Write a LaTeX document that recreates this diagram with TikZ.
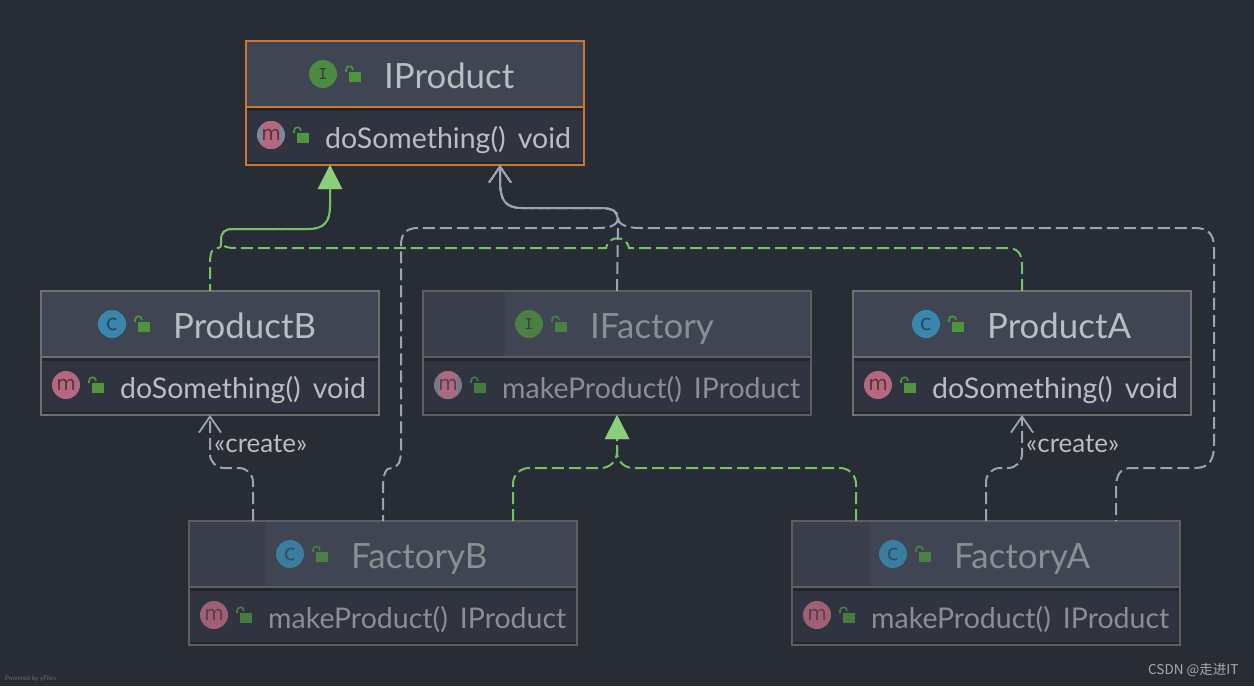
\documentclass[tikz,border=0pt]{standalone}
\usepackage{xcolor}
\usepackage{fontspec}
\setmainfont{Lato}
\newfontfamily\cjkfoot{Noto Sans CJK SC}
\newfontfamily\iconfont{DejaVu Sans Mono}
\newfontfamily\letterfont{DejaVu Sans}
\usetikzlibrary{arrows.meta, positioning}
\definecolor{bgdark}{HTML}{282C34}
\definecolor{headfill}{HTML}{3F4552}
\definecolor{headdim}{HTML}{3A3F4B}
\definecolor{bodyfill}{HTML}{2F3440}
\definecolor{stripe}{HTML}{23262E}
\definecolor{edgeorange}{HTML}{C87832}
\definecolor{edgegray}{HTML}{6E7070}
\definecolor{edgedim}{HTML}{5C5E5F}
\definecolor{txtbright}{HTML}{BABDC1}
\definecolor{txtdim}{HTML}{8B8E92}
\definecolor{linegreen}{HTML}{76C265}
\definecolor{tipgreen}{HTML}{8BCF7A}
\definecolor{linegray}{HTML}{9DA3B4}
\definecolor{icongreen}{HTML}{4F8A42}
\definecolor{lockgreen}{HTML}{4E963E}
\definecolor{iconblue}{HTML}{3A87AD}
\definecolor{iconpink}{HTML}{B3687F}
\definecolor{icongray}{HTML}{7C8A96}
\definecolor{letteri}{HTML}{2F3F30}
\definecolor{letterc}{HTML}{2B4A60}
\definecolor{letterm}{HTML}{5A3342}

\begin{document}
\begin{tikzpicture}[
  x=1pt, y=-1pt,
  head/.style={rectangle, draw=edgegray, fill=headfill, line width=2pt, outer sep=0pt, minimum height=66pt},
  dimhead/.style={head, draw=edgedim, path picture={\fill[headdim] (path picture bounding box.north west) rectangle ([xshift=#1]path picture bounding box.south west);}},
  body/.style={rectangle, draw=edgegray, fill=bodyfill, line width=2pt, outer sep=0pt, minimum height=58pt, path picture={
    \fill[stripe] (path picture bounding box.north west) rectangle ([yshift=-4pt]path picture bounding box.north east);
    \fill[stripe] (path picture bounding box.south west) rectangle ([yshift=3pt]path picture bounding box.south east);}},
  dimbody/.style={body, draw=edgedim},
  narrow/.style={minimum width=338pt},
  wide/.style={minimum width=388pt},
  orangebox/.style={draw=edgeorange},
  classname/.style={anchor=base west, inner sep=0pt, text=txtbright, font=\fontsize{34.8}{40}\selectfont},
  method/.style={anchor=base west, inner sep=0pt, text=txtbright, font=\fontsize{28.5}{32}\selectfont},
  dimtext/.style={text=txtdim},
  icon/.style={circle, inner sep=0pt, minimum size=28pt, outer sep=0pt},
  iconi/.style={icon, fill=icongreen, text=letteri, font=\iconfont\fontsize{15}{15}\selectfont},
  iconc/.style={icon, fill=iconblue, text=letterc, font=\letterfont\fontsize{22}{22}\selectfont},
  iconm/.style={icon, fill=iconpink, text=letterm, font=\letterfont\fontsize{20}{20}\selectfont},
  iconmsel/.style={icon, fill=icongray, text=letterm, font=\letterfont\fontsize{20}{20}\selectfont, path picture={
    \fill[iconpink] ([xshift=-9pt]path picture bounding box.south) rectangle ([xshift=9pt]path picture bounding box.north);}},
  dimicon/.style={opacity=0.85},
  lock/.pic={
    \fill[lockgreen] (12,-2) rectangle (24,8);
    \draw[lockgreen, line width=1.6pt] (9,-2) -- (9,-4) .. controls (9,-9) and (16,-9) .. (16,-4);
  },
  impl/.style={draw=linegreen, line width=2pt, dash pattern=on 12pt off 5pt},
  dep/.style={draw=linegray, line width=2pt, dash pattern=on 12pt off 5pt},
  tipimpl/.style={-{Triangle[length=24pt, width=24pt, color=tipgreen]}},
  tipdep/.style={-{Straight Barb[length=16pt, width=22pt, color=linegray, line width=1.8pt]}},
  lbl/.style={anchor=base west, inner sep=0pt, text=txtbright, font=\fontsize{26}{30}\selectfont}
]
  \useasboundingbox[fill=bgdark] (0,0) rectangle (1254,686);

  \node[head, narrow, orangebox] (iproduct) at (415,74) {};
  \node[body, narrow, orangebox, below=0pt of iproduct] (iproductbody) {};
  \node[head, narrow, below left=126pt and -133pt of iproductbody] (productb) {};
  \node[body, narrow, below=0pt of productb] (productbbody) {};
  \node[dimhead=82pt, wide, right=44pt of productb] (ifactory) {};
  \node[dimbody, wide, below=0pt of ifactory] (ifactorybody) {};
  \node[head, narrow, right=42pt of ifactory] (producta) {};
  \node[body, narrow, below=0pt of producta] (productabody) {};
  \node[dimhead=77pt, wide, below right=106pt and -190pt of productbbody] (factoryb) {};
  \node[dimbody, wide, below=0pt of factoryb] (factorybbody) {};
  \node[dimhead=78pt, wide, right=215pt of factoryb] (factorya) {};
  \node[dimbody, wide, below=0pt of factorya] (factoryabody) {};

  \node[iconi, right=63pt of iproduct.west] (iproducticon) {I};
  \node[iconc, right=57pt of productb.west] (productbicon) {c};
  \node[iconi, dimicon, right=92pt of ifactory.west] (ifactoryicon) {I};
  \node[iconc, right=59pt of producta.west] (productaicon) {c};
  \node[iconc, dimicon, right=87pt of factoryb.west] (factorybicon) {c};
  \node[iconc, dimicon, right=87pt of factorya.west] (factoryaicon) {c};
  \node[iconmsel, right=11pt of iproductbody.west, yshift=1pt] (iproductm) {m};
  \node[iconm, right=11pt of productbbody.west, yshift=1pt] (productbm) {m};
  \node[iconmsel, dimicon, right=11pt of ifactorybody.west, yshift=1pt] (ifactorym) {m};
  \node[iconm, right=11pt of productabody.west, yshift=1pt] (productam) {m};
  \node[iconm, dimicon, right=11pt of factorybbody.west, yshift=1pt] (factorybm) {m};
  \node[iconm, dimicon, right=11pt of factoryabody.west, yshift=1pt] (factoryam) {m};

  \foreach \ic in {iproducticon, productbicon, productaicon, iproductm, productbm, productam}
    \pic at (\ic.east) {lock};
  \foreach \ic in {ifactoryicon, factorybicon, factoryaicon, ifactorym, factorybm, factoryam}
    \pic[opacity=0.75] at (\ic.east) {lock};

  \node[classname] (iproductname) at ([xshift=138pt, yshift=-14pt]iproduct.west) {IProduct};
  \node[classname] (productbname) at ([xshift=132pt, yshift=-14pt]productb.west) {ProductB};
  \node[classname, dimtext] (ifactoryname) at ([xshift=167pt, yshift=-14pt]ifactory.west) {IFactory};
  \node[classname] (productaname) at ([xshift=134pt, yshift=-14pt]producta.west) {ProductA};
  \node[classname, dimtext] (factorybname) at ([xshift=162pt, yshift=-14pt]factoryb.west) {FactoryB};
  \node[classname, dimtext] (factoryaname) at ([xshift=162pt, yshift=-14pt]factorya.west) {FactoryA};
  \node[method] (iproductcall) at ([xshift=79pt, yshift=-12pt]iproductbody.west) {doSomething()\ \,void};
  \node[method] (productbcall) at ([xshift=79pt, yshift=-12pt]productbbody.west) {doSomething()\ \,void};
  \node[method, dimtext] (ifactorycall) at ([xshift=79pt, yshift=-12pt]ifactorybody.west) {makeProduct()\ \,IProduct};
  \node[method] (productacall) at ([xshift=79pt, yshift=-12pt]productabody.west) {doSomething()\ \,void};
  \node[method, dimtext] (factorybcall) at ([xshift=79pt, yshift=-12pt]factorybbody.west) {makeProduct()\ \,IProduct};
  \node[method, dimtext] (factoryacall) at ([xshift=79pt, yshift=-12pt]factoryabody.west) {makeProduct()\ \,IProduct};

  \draw[impl, tipimpl, dash phase=5pt] (productb.north) -- (210,264) .. controls (210,252) and (212,248) .. (218,248) .. controls (220,248) and (221,247) .. (221,243) -- (221,240) .. controls (221,232) and (225,229) .. (233,229) -- (308,229) .. controls (324,229) and (330,222) .. (330,206) -- ([xshift=-85pt]iproductbody.south);
  \draw[impl, tipimpl] (producta.north) -- (1022,266) .. controls (1022,253) and (1018,248) .. (1006,248) -- (629,248) .. controls (627,235) and (608,235) .. (606,248) -- (236,248) .. controls (228,248) and (221,247) .. (221,240) .. controls (221,232) and (225,229) .. (233,229) -- (308,229) .. controls (324,229) and (330,222) .. (330,206) -- ([xshift=-85pt]iproductbody.south);
  \draw[impl, tipimpl, rounded corners=16pt] ([xshift=130pt]factoryb.north) -- (513,468) -- (617,468) -- (ifactorybody.south);
  \draw[impl, tipimpl, rounded corners=16pt] ([xshift=-130pt]factorya.north) -- (856,468) -- (617,468) -- (ifactorybody.south);

  \draw[dep, tipdep] (ifactory.north) -- (618,222) .. controls (618,212) and (613,208) .. (600,208) -- (522,208) .. controls (505,208) and (501,200) .. (500,184) -- ([xshift=85pt]iproductbody.south);
  \draw[dep, tipdep, dash phase=6pt] (factoryb.north) -- (383,490) .. controls (383,472) and (386,468) .. (392,468) .. controls (398,467) and (401,462) .. (401,450) -- (401,245) .. controls (401,233) and (407,228) .. (418,228) -- (598,228) .. controls (612,228) and (618,224) .. (618,218) .. controls (618,212) and (613,208) .. (600,208) -- (522,208) .. controls (505,208) and (501,200) .. (500,184) -- ([xshift=85pt]iproductbody.south);
  \draw[dep, tipdep, dash phase=11pt] ([xshift=130pt]factorya.north) -- (1116,490) .. controls (1116,474) and (1120,468) .. (1132,468) -- (1195,468) .. controls (1209,468) and (1214,460) .. (1214,445) -- (1214,248) .. controls (1214,234) and (1208,228) .. (1195,228) -- (640,228) .. controls (626,228) and (618,224) .. (618,218) .. controls (618,212) and (613,208) .. (600,208) -- (522,208) .. controls (505,208) and (501,200) .. (500,184) -- ([xshift=85pt]iproductbody.south);
  \draw[dep, tipdep, rounded corners=14pt] ([xshift=-130pt]factoryb.north) -- (253,468) -- (210,468) -- (productbbody.south);
  \draw[dep, tipdep, rounded corners=14pt] (factorya.north) -- (986,468) -- (1022,468) -- (productabody.south);

  \node[lbl] (createb) at ([xshift=4pt, yshift=-37pt]productbbody.south) {«create»};
  \node[lbl] (createa) at ([xshift=4pt, yshift=-37pt]productabody.south) {«create»};

  \node[anchor=base west, inner sep=0pt, text=txtbright!90!black, font=\cjkfoot\fontsize{13.5}{16}\selectfont] (csdn) at (1148,674) {CSDN @走进IT};
  \node[anchor=base west, inner sep=0pt, text=white!30!bgdark, font=\fontsize{6.4}{8}\selectfont] (poweredby) at (5,680) {Powered by yFiles};
\end{tikzpicture}
\end{document}
